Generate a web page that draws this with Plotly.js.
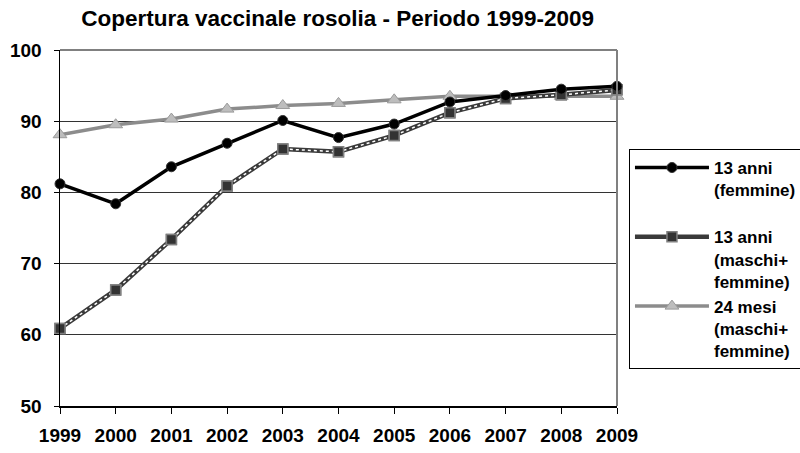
<!DOCTYPE html>
<html><head><meta charset="utf-8">
<script src="https://cdn.plot.ly/plotly-3.0.1.min.js"></script>
<style>body{margin:0;background:#fff}#c{width:800px;height:453px}</style>
</head><body><div id="c"></div>
<script>
const years = [1999,2000,2001,2002,2003,2004,2005,2006,2007,2008,2009];
const femmine13 = [81.2,78.4,83.6,86.9,90.1,87.7,89.6,92.7,93.6,94.5,94.9];
const maschiFemmine13 = [60.9,66.3,73.4,80.9,86.1,85.7,88.0,91.2,93.2,93.7,94.4];
const mesi24 = [88.1,89.5,90.3,91.7,92.2,92.5,93.0,93.5,93.5,93.5,93.5];
const names = ["13 anni<br>(femmine)<br>\u00a0","13 anni<br>(maschi+<br>femmine)","24 mesi<br>(maschi+<br>femmine)"];
const F = "Liberation Sans, Arial, sans-serif";
const bold = s => '<b>'+s.split('<br>').join('</b><br><b>')+'</b>';

const tFem = {x:years,y:femmine13,name:bold(names[0]),mode:'lines+markers',legendrank:1,
   line:{color:'#000000',width:3.5},
   marker:{symbol:'circle',size:10,color:'#000000',line:{color:'#333',width:1}},cliponaxis:false};
const tMF = {x:years,y:maschiFemmine13,name:bold(names[1]),mode:'lines+markers',legendrank:2,
   line:{color:'#3a3a3a',width:4.5},
   marker:{symbol:'square',size:10,color:'#333333',line:{color:'#808080',width:1.5}},cliponaxis:false};
const tMFdots = {x:years,y:maschiFemmine13,mode:'lines',showlegend:false,hoverinfo:'skip',
   line:{color:'#ffffff',width:1.5,dash:'dot'},cliponaxis:false};
const tMFmarks = {x:years,y:maschiFemmine13,mode:'markers',showlegend:false,hoverinfo:'skip',
   marker:{symbol:'square',size:10,color:'#333333',line:{color:'#808080',width:1.5}},cliponaxis:false};
const t24 = {x:years,y:mesi24,name:bold(names[2]),mode:'lines+markers',legendrank:3,
   line:{color:'#8c8c8c',width:3.5},
   marker:{symbol:'triangle-up',size:12,color:'#bdbdbd',line:{color:'#9a9a9a',width:1}},cliponaxis:false};

const layout = {
  width:800,height:453,
  margin:{l:60,r:183,t:50,b:47,autoexpand:false},
  paper_bgcolor:'#fff',plot_bgcolor:'#fff',
  font:{family:F,color:'#000'},
  title:{text:'<b>Copertura vaccinale rosolia - Periodo 1999-2009</b>',font:{family:F,size:22.5,color:'#000'},x:0.422,xanchor:'center',y:0.96,yanchor:'middle',automargin:false},
  xaxis:{range:[1999,2009],tickmode:'array',tickvals:years,ticktext:years.map(v=>'<b>'+v+'</b>'),
    showgrid:false,zeroline:false,showline:true,linecolor:'#000',linewidth:1.5,automargin:false,
    ticks:'outside',ticklen:6,tickcolor:'#000',tickfont:{family:F,size:19,color:'#000'},ticklabelstandoff:6},
  yaxis:{range:[50,100],tickmode:'array',tickvals:[50,60,70,80,90,100],ticktext:['<b>50</b>','<b>60</b>','<b>70</b>','<b>80</b>','<b>90</b>','<b>100</b>'],
    showgrid:true,gridcolor:'#333',gridwidth:1,zeroline:false,showline:true,linecolor:'#000',linewidth:1.5,automargin:false,
    ticks:'outside',ticklen:5,tickcolor:'#000',tickfont:{family:F,size:19,color:'#000'},ticklabelstandoff:8},
  shapes:[
    {type:'line',xref:'paper',yref:'paper',x0:0,x1:1,y0:1,y1:1,line:{color:'#808080',width:2}},
    {type:'line',xref:'paper',yref:'paper',x0:1,x1:1,y0:0,y1:1,line:{color:'#808080',width:2}}
  ],
  legend:{x:1.0215,xanchor:'left',y:0.722,yanchor:'top',bordercolor:'#000',borderwidth:1,bgcolor:'#fff',
    font:{family:F,size:17,color:'#000'},traceorder:'normal',valign:'top',itemwidth:74},
  showlegend:true
};
Plotly.newPlot('c',[t24,tMF,tMFdots,tMFmarks,tFem],layout,{staticPlot:true});
</script></body></html>
